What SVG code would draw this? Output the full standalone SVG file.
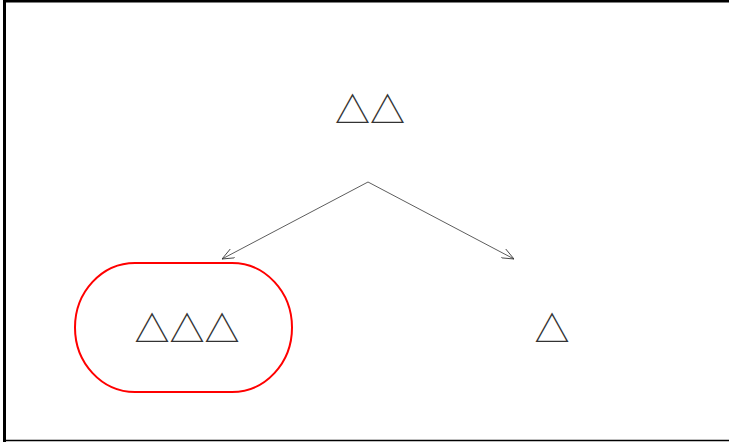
<svg xmlns="http://www.w3.org/2000/svg" width="729" height="442" viewBox="0 0 729 442">
<style>
.t{font-family:"Noto Sans CJK SC",sans-serif;font-size:35px;fill:#333;text-anchor:middle}
.e{stroke:#333;stroke-width:0.8;fill:none}
</style>
<defs>
<marker id="a" viewBox="0 0 12 10" refX="12" refY="5" markerWidth="12" markerHeight="10" markerUnits="userSpaceOnUse" orient="auto">
<path d="M0,0 L12,5 L0,10" fill="none" stroke="#333" stroke-width="0.8"/>
</marker>
</defs>
<rect width="729" height="442" fill="#fff"/>
<path d="M4.5,442 V1 H729" stroke="#000" stroke-width="3" fill="none"/>
<path d="M3,440.5 H729" stroke="#000" stroke-width="1.5" fill="none"/>
<g id="connectors">
<line class="e" x1="368" y1="182" x2="222" y2="259" marker-end="url(#a)"/>
<line class="e" x1="368" y1="182" x2="514" y2="259" marker-end="url(#a)"/>
</g>
<g id="root"><text class="t" x="370" y="123">△△</text></g>
<g id="left">
<rect x="75" y="263" width="217" height="129" rx="60" ry="64.5" fill="none" stroke="#f00" stroke-width="2"/>
<text class="t" x="187" y="342">△△△</text>
</g>
<g id="right"><text class="t" x="552" y="342">△</text></g>
</svg>
